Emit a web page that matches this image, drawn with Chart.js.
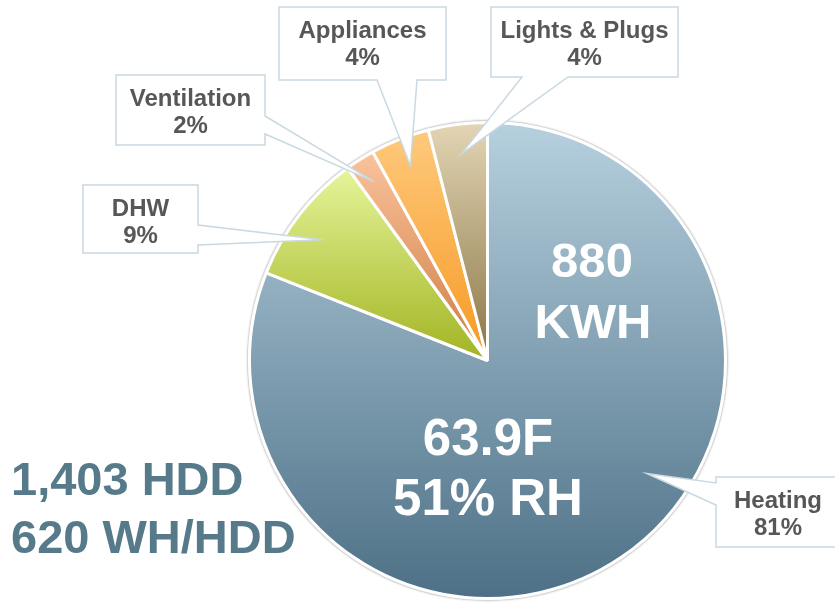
<!DOCTYPE html>
<html>
<head>
<meta charset="utf-8">
<script src="https://cdn.jsdelivr.net/npm/chart.js@4/dist/chart.umd.min.js"></script>
<style>
  html, body { margin: 0; padding: 0; background: #ffffff; }
  #energyChart { display: block; }
</style>
</head>
<body>
<canvas id="energyChart" width="835" height="605"></canvas>
<script>
// End-use breakdown (percent of total)
const categories = ['Heating', 'DHW', 'Ventilation', 'Appliances', 'Lights & Plugs'];
const shares = [81, 9, 2, 4, 4];

// top / bottom gradient colours per slice
const topColors = ['#b6d0de', '#e6f59a', '#fac39d', '#fec97c', '#e3d5b5'];
const bottomColors = ['#4d7086', '#a2b423', '#cf7b40', '#f79924', '#8a7745'];

// summary figures
const totalLines = ['880', 'KWH'];
const indoorLines = ['63.9F', '51% RH'];
const degreeDayLines = ['1,403 HDD', '620 WH/HDD'];

// callout boxes: position, side the pointer leaves from, where it lands in the slice
const callouts = [
  { box: [716, 477, 124, 70], side: 'left',   base: [483, 505], at: 0.43, depth: 0.82 },
  { box: [83, 185, 115, 68],  side: 'right',  base: [225, 245], at: 0.45, depth: 0.86 },
  { box: [116, 75, 149, 70],  side: 'right',  base: [116, 134], at: 0.5,  depth: 0.89 },
  { box: [279, 7, 167, 73],   side: 'bottom', base: [377, 417], at: 0.5,  depth: 0.88 },
  { box: [491, 7, 187, 70],   side: 'bottom', base: [522, 568], at: 0.5,  depth: 0.875 }
];

const FONT = '"Liberation Sans", Arial, Helvetica, sans-serif';

// vertical gradient spanning each slice's own height
function sliceGradient(context) {
  const chart = context.chart;
  const area = chart.chartArea;
  if (!area) return topColors[context.dataIndex];
  const i = context.dataIndex;
  const cx = (area.left + area.right) / 2;
  const cy = (area.top + area.bottom) / 2;
  const r = (Math.min(area.right - area.left, area.bottom - area.top) - 3) / 2;
  const total = shares.reduce((a, b) => a + b, 0);
  const before = shares.slice(0, i).reduce((a, b) => a + b, 0);
  const a0 = -Math.PI / 2 + (before / total) * Math.PI * 2;
  const a1 = a0 + (shares[i] / total) * Math.PI * 2;
  let ys = [cy, cy + r * Math.sin(a0), cy + r * Math.sin(a1)];
  const within = a => {
    let t = a;
    while (t < a0) t += Math.PI * 2;
    return t <= a1;
  };
  if (within(-Math.PI / 2)) ys.push(cy - r);
  if (within(Math.PI / 2)) ys.push(cy + r);
  const g = chart.ctx.createLinearGradient(0, Math.min(...ys), 0, Math.max(...ys));
  g.addColorStop(0, topColors[i]);
  g.addColorStop(1, bottomColors[i]);
  return g;
}

const ringPlugin = {
  id: 'ring',
  beforeDatasetsDraw(chart) {
    const arc = chart.getDatasetMeta(0).data[0];
    if (!arc) return;
    const ctx = chart.ctx;
    ctx.save();
    ctx.beginPath();
    ctx.arc(arc.x, arc.y, arc.outerRadius + 2.2, 0, Math.PI * 2);
    ctx.shadowColor = 'rgba(0,0,0,0.3)';
    ctx.shadowBlur = 2;
    ctx.fillStyle = '#d8d8d8';
    ctx.fill();
    ctx.restore();
  }
};

const calloutPlugin = {
  id: 'callouts',
  afterDatasetsDraw(chart) {
    const ctx = chart.ctx;
    const arcs = chart.getDatasetMeta(0).data;

    // text inside the pie
    ctx.save();
    ctx.fillStyle = '#ffffff';
    ctx.textAlign = 'center';
    ctx.textBaseline = 'alphabetic';
    ctx.font = 'bold 49px ' + FONT;
    ctx.fillText(totalLines[0], 592, 277);
    ctx.fillText(totalLines[1], 593, 338);
    ctx.font = 'bold 51px ' + FONT;
    ctx.fillText(indoorLines[0], 488, 455);
    ctx.fillText(indoorLines[1], 488, 515);

    ctx.fillStyle = '#577a8b';
    ctx.textAlign = 'left';
    ctx.font = 'bold 47px ' + FONT;
    ctx.fillText(degreeDayLines[0], 11, 495);
    ctx.fillText(degreeDayLines[1], 11, 553);
    ctx.restore();

    callouts.forEach((c, i) => {
      const arc = arcs[i];
      const ang = arc.startAngle + (arc.endAngle - arc.startAngle) * c.at;
      const tx = arc.x + Math.cos(ang) * arc.outerRadius * c.depth;
      const ty = arc.y + Math.sin(ang) * arc.outerRadius * c.depth;
      const [x, y, w, h] = c.box;
      const [a, b] = c.base;

      ctx.save();
      ctx.beginPath();
      ctx.moveTo(x, y);
      if (c.side === 'bottom') {
        ctx.lineTo(x + w, y);
        ctx.lineTo(x + w, y + h);
        ctx.lineTo(b, y + h);
        ctx.lineTo(tx, ty);
        ctx.lineTo(a, y + h);
        ctx.lineTo(x, y + h);
      } else if (c.side === 'right') {
        ctx.lineTo(x + w, y);
        ctx.lineTo(x + w, a);
        ctx.lineTo(tx, ty);
        ctx.lineTo(x + w, b);
        ctx.lineTo(x + w, y + h);
        ctx.lineTo(x, y + h);
      } else {
        ctx.lineTo(x + w, y);
        ctx.lineTo(x + w, y + h);
        ctx.lineTo(x, y + h);
        ctx.lineTo(x, b);
        ctx.lineTo(tx, ty);
        ctx.lineTo(x, a);
      }
      ctx.closePath();
      ctx.fillStyle = '#ffffff';
      ctx.fill();
      ctx.lineWidth = 1.5;
      ctx.strokeStyle = '#c9d9e1';
      ctx.stroke();

      ctx.fillStyle = '#575757';
      ctx.textAlign = 'center';
      ctx.font = 'bold 24px ' + FONT;
      ctx.fillText(categories[i], x + w / 2, y + 31);
      ctx.fillText(shares[i] + '%', x + w / 2, y + 58);
      ctx.restore();
    });
  }
};

new Chart(document.getElementById('energyChart').getContext('2d'), {
  type: 'pie',
  data: {
    labels: categories,
    datasets: [{
      data: shares,
      backgroundColor: sliceGradient,
      borderColor: '#ffffff',
      borderWidth: 3
    }]
  },
  options: {
    responsive: false,
    animation: false,
    layout: { padding: { left: 248, top: 121, right: 108, bottom: 5 } },
    plugins: {
      legend: { display: false },
      tooltip: { enabled: false }
    }
  },
  plugins: [ringPlugin, calloutPlugin]
});
</script>
</body>
</html>
